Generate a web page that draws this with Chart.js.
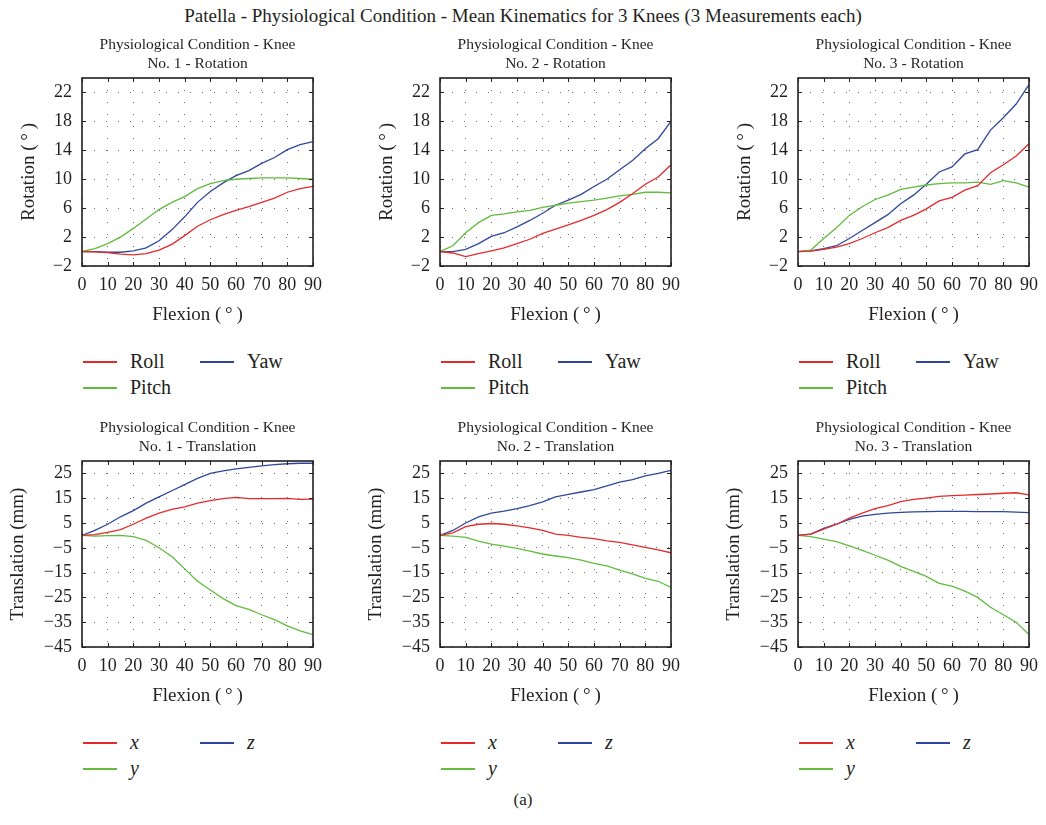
<!DOCTYPE html>
<html>
<head>
<meta charset="utf-8">
<script src="https://cdn.jsdelivr.net/npm/chart.js@4.4.1/dist/chart.umd.min.js"></script>
<style>
    body { margin: 0; background: #fff; }
    #page { position: relative; width: 1046px; height: 825px; overflow: hidden; font-family: "Liberation Serif", "DejaVu Serif", serif; color: #231f20; }
    #mainTitle { position: absolute; left: 0; top: 5px; width: 1046px; text-align: center; font-size: 19px; }
    #caption { position: absolute; left: 0; top: 790px; width: 1046px; text-align: center; font-size: 17px; }
    canvas { position: absolute; }
    .leg { position: absolute; font-size: 20px; line-height: 20px; white-space: nowrap; }
    .leg i.ln { position: absolute; width: 34px; height: 0; border-top: 2px solid; }
    .leg span { position: absolute; top: 0; }
    .leg span.it { font-style: italic; }
</style>
</head>
<body>
<div id="page">
    <div id="mainTitle">Patella - Physiological Condition - Mean Kinematics for 3 Knees (3 Measurements each)</div>
    <div id="caption">(a)</div>
</div>
<script>
// flexion angle (deg) shared by every series
const flexion = [0, 5, 10, 15, 20, 25, 30, 35, 40, 45, 50, 55, 60, 65, 70, 75, 80, 85, 90];

// rotation (deg)
const roll1  = [0, -0.05, -0.15, -0.35, -0.45, -0.3, 0.2, 1.0, 2.2, 3.5, 4.4, 5.1, 5.7, 6.2, 6.8, 7.4, 8.2, 8.7, 9.0];
const pitch1 = [0, 0.4, 1.1, 2.0, 3.2, 4.5, 5.8, 6.8, 7.6, 8.7, 9.4, 9.8, 10.0, 10.1, 10.2, 10.2, 10.2, 10.1, 10.0];
const yaw1   = [0, 0, -0.1, -0.1, 0.1, 0.5, 1.5, 3.0, 4.8, 6.8, 8.3, 9.5, 10.5, 11.2, 12.2, 13.0, 14.1, 14.8, 15.2];

const roll2  = [0, -0.2, -0.7, -0.3, 0.1, 0.5, 1.1, 1.7, 2.5, 3.1, 3.7, 4.3, 5.0, 5.8, 6.8, 8.0, 9.3, 10.3, 12.0];
const pitch2 = [0, 0.8, 2.6, 4.0, 5.0, 5.2, 5.5, 5.7, 6.1, 6.4, 6.7, 6.9, 7.1, 7.4, 7.7, 7.9, 8.2, 8.2, 8.1];
const yaw2   = [0, 0, 0.3, 1.1, 2.1, 2.6, 3.4, 4.3, 5.3, 6.4, 7.1, 7.9, 9.0, 10.0, 11.3, 12.6, 14.2, 15.6, 18.0];

const roll3  = [0, 0.05, 0.3, 0.6, 1.1, 1.8, 2.6, 3.3, 4.3, 5.0, 5.9, 7.0, 7.5, 8.5, 9.1, 10.9, 12.0, 13.2, 14.9];
const pitch3 = [0, 0.2, 1.8, 3.3, 5.0, 6.2, 7.2, 7.8, 8.6, 8.9, 9.2, 9.4, 9.5, 9.5, 9.6, 9.3, 9.8, 9.5, 8.9];
const yaw3   = [0, 0.1, 0.4, 0.8, 1.8, 2.9, 4.0, 5.1, 6.6, 7.8, 9.3, 11.0, 11.7, 13.5, 14.1, 16.8, 18.5, 20.4, 23.1];

// translation (mm)
const tx1 = [0, 0.3, 1.2, 2.3, 4.5, 7.0, 9.0, 10.5, 11.5, 13.0, 14.0, 14.8, 15.3, 14.8, 14.8, 14.8, 14.9, 14.5, 14.6];
const ty1 = [0, -0.3, -0.1, 0, -0.5, -2, -5, -8.5, -13.5, -18.5, -22, -25.5, -28.3, -29.8, -32, -34, -36.5, -38.5, -40];
const tz1 = [0, 2, 4.5, 7.5, 10, 13, 15.5, 18, 20.5, 23, 25, 26, 26.8, 27.4, 28, 28.5, 28.9, 29.1, 29.1];

const tx2 = [0, 1.0, 3.5, 4.5, 4.8, 4.5, 3.8, 3.0, 2.0, 0.5, 0, -0.8, -1.3, -2.2, -2.8, -3.8, -4.8, -5.8, -7.0];
const ty2 = [0, -0.3, -0.8, -2.3, -3.5, -4.3, -5.2, -6.3, -7.5, -8.3, -9.0, -10.0, -11.3, -12.3, -14.0, -15.5, -17.3, -18.5, -21.0];
const tz2 = [0, 2, 5, 7.5, 9, 9.8, 10.8, 12, 13.5, 15.5, 16.5, 17.5, 18.5, 20, 21.5, 22.5, 24, 25, 26.2];

const tx3 = [0, 0.5, 2.5, 4.5, 7.0, 9.0, 10.8, 12.0, 13.6, 14.5, 15.0, 15.7, 16.0, 16.2, 16.5, 16.7, 17.0, 17.2, 16.3];
const ty3 = [0, -0.5, -1.5, -2.5, -4.2, -6, -8, -10, -12.5, -14.5, -16.5, -19.3, -20.5, -22.5, -25, -29, -32, -35, -40];
const tz3 = [0, 0.5, 2.8, 4.5, 6.5, 7.8, 8.5, 9.0, 9.3, 9.5, 9.6, 9.7, 9.7, 9.7, 9.6, 9.6, 9.6, 9.4, 9.2];

// labels
const rotLabels = ['Roll', 'Pitch', 'Yaw'];
const transLabels = ['x', 'y', 'z'];
const rotTickLabels = [-2, 2, 6, 10, 14, 18, 22];
const transTickLabels = [-45, -35, -25, -15, -5, 5, 15, 25];
const flexTickLabels = [0, 10, 20, 30, 40, 50, 60, 70, 80, 90];

const lineColors = ['#e62a2c', '#62bb3e', '#2e479c'];
const ink = '#231f20';
const serif = '"Liberation Serif", "DejaVu Serif", serif';

const panels = [
    { knee: 1, kind: 'rot',   left: 82,  top: 78,  h: 188, series: [roll1, pitch1, yaw1] },
    { knee: 2, kind: 'rot',   left: 440, top: 78,  h: 188, series: [roll2, pitch2, yaw2] },
    { knee: 3, kind: 'rot',   left: 798, top: 78,  h: 188, series: [roll3, pitch3, yaw3] },
    { knee: 1, kind: 'trans', left: 82,  top: 461, h: 186, series: [tx1, ty1, tz1] },
    { knee: 2, kind: 'trans', left: 440, top: 461, h: 186, series: [tx2, ty2, tz2] },
    { knee: 3, kind: 'trans', left: 798, top: 461, h: 186, series: [tx3, ty3, tz3] }
];

const PLOT_W = 234;
const Y_AXIS_W = 82;
const TITLE_H = 48;
const X_AXIS_H = 60;
const RIGHT_PAD = 14;

const fmt = v => (v < 0 ? '\u2212' + Math.abs(v) : String(v));

// box around the plot plus inward tick marks on all four sides
const framePlugin = {
    id: 'frame',
    afterDraw(chart) {
        const { ctx, chartArea: a, scales: { x, y } } = chart;
        ctx.save();
        ctx.strokeStyle = ink;
        ctx.lineWidth = 1;
        ctx.beginPath();
        x.ticks.forEach(t => {
            const px = Math.round(x.getPixelForValue(t.value)) + 0.5;
            ctx.moveTo(px, a.bottom); ctx.lineTo(px, a.bottom - 4);
            ctx.moveTo(px, a.top); ctx.lineTo(px, a.top + 4);
        });
        y.ticks.forEach(t => {
            const py = Math.round(y.getPixelForValue(t.value)) + 0.5;
            ctx.moveTo(a.left, py); ctx.lineTo(a.left + 4, py);
            ctx.moveTo(a.right, py); ctx.lineTo(a.right - 4, py);
        });
        ctx.stroke();
        ctx.lineWidth = 1.6;
        ctx.strokeRect(a.left, a.top, a.width, a.height);
        ctx.restore();
    }
};

const page = document.getElementById('page');

panels.forEach(p => {
    const isRot = p.kind === 'rot';
    const labels = isRot ? rotLabels : transLabels;
    const canvas = document.createElement('canvas');
    canvas.width = Y_AXIS_W + PLOT_W + RIGHT_PAD;
    canvas.height = TITLE_H + p.h + X_AXIS_H;
    canvas.style.left = (p.left - Y_AXIS_W) + 'px';
    canvas.style.top = (p.top - TITLE_H) + 'px';
    page.appendChild(canvas);

    const tickLabels = isRot ? rotTickLabels : transTickLabels;

    new Chart(canvas.getContext('2d'), {
        type: 'line',
        data: {
            datasets: p.series.map((vals, i) => ({
                label: labels[i],
                data: flexion.map((f, k) => ({ x: f, y: vals[k] })),
                borderColor: lineColors[i],
                borderWidth: 1.3,
                pointRadius: 0,
                tension: 0,
                fill: false
            }))
        },
        options: {
            responsive: false,
            animation: false,
            layout: { padding: { left: 0, right: RIGHT_PAD, top: 0, bottom: 0 } },
            plugins: {
                legend: { display: false },
                tooltip: { enabled: false },
                title: {
                    display: true,
                    fullSize: false,
                    text: ['Physiological Condition - Knee',
                           'No. ' + p.knee + ' - ' + (isRot ? 'Rotation' : 'Translation')],
                    color: ink,
                    font: { family: serif, size: 15.5, weight: 'normal', lineHeight: 19 / 15.5 },
                    padding: { top: 5, bottom: 5 }
                }
            },
            scales: {
                x: {
                    type: 'linear',
                    min: 0,
                    max: 90,
                    afterFit(scale) { scale.height = X_AXIS_H; },
                    ticks: {
                        stepSize: 10,
                        padding: 8,
                        maxRotation: 0,
                        color: ink,
                        font: { family: serif, size: 18 },
                        callback: v => (flexTickLabels.includes(v) ? fmt(v) : '')
                    },
                    grid: { color: '#6d6d6d', lineWidth: 1, drawTicks: false },
                    border: { display: false, dash: [1, 11] },
                    title: {
                        display: true,
                        text: 'Flexion (\u2009\u00b0\u2009)',
                        color: ink,
                        font: { family: serif, size: 19 },
                        padding: { top: 0, bottom: 0 }
                    }
                },
                y: {
                    type: 'linear',
                    min: isRot ? -2 : -45,
                    max: isRot ? 24 : 30,
                    afterFit(scale) { scale.width = Y_AXIS_W; },
                    ticks: {
                        stepSize: isRot ? 2 : 5,
                        padding: 10,
                        color: ink,
                        font: { family: serif, size: 18 },
                        callback: v => (tickLabels.includes(v) ? fmt(v) : '')
                    },
                    grid: { color: '#6d6d6d', lineWidth: 1, drawTicks: false },
                    border: { display: false, dash: [1, 11] },
                    title: {
                        display: true,
                        text: isRot ? 'Rotation (\u2009\u00b0\u2009)' : 'Translation (mm)',
                        color: ink,
                        font: { family: serif, size: 19 },
                        padding: { top: isRot ? 18 : 7, bottom: 0 }
                    }
                }
            }
        },
        plugins: [framePlugin]
    });

    // legend below each panel: two columns, column-major (first, second / third)
    const legend = document.createElement('div');
    legend.className = 'leg';
    legend.style.left = p.left + 'px';
    legend.style.top = (p.top + p.h + 85) + 'px';
    const slots = [[0, 0], [0, 26], [117, 0]];
    labels.forEach((name, i) => {
        const [dx, dy] = slots[i];
        const ln = document.createElement('i');
        ln.className = 'ln';
        ln.style.left = (dx + 1) + 'px';
        ln.style.top = (dy + 10) + 'px';
        ln.style.borderTopColor = lineColors[i];
        const tx = document.createElement('span');
        if (!isRot) tx.className = 'it';
        tx.style.left = (dx + 48) + 'px';
        tx.style.top = dy + 'px';
        tx.textContent = name;
        legend.appendChild(ln);
        legend.appendChild(tx);
    });
    page.appendChild(legend);
});
</script>
</body>
</html>
